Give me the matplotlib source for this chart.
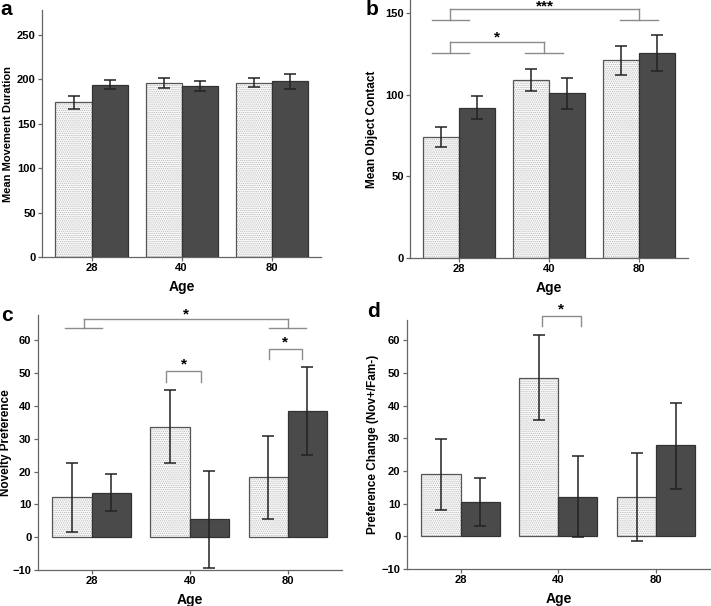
import numpy as np
import matplotlib
matplotlib.use("Agg")
import matplotlib.pyplot as plt

plt.rcParams['font.family'] = ['Liberation Sans', 'DejaVu Sans']
plt.rcParams['font.weight'] = 'bold'
plt.rcParams['hatch.linewidth'] = 0.5

# Donnees
ages = ['28', '40', '80']

duree_clair = [174, 196, 196]
duree_clair_bas = [167, 190, 191]
duree_clair_haut = [181, 202, 201]
duree_fonce = [194, 192, 198]
duree_fonce_bas = [189, 187, 189]
duree_fonce_haut = [199, 198, 206]

contact_clair = [74, 109, 121]
contact_clair_bas = [68, 102, 112]
contact_clair_haut = [80, 116, 130]
contact_fonce = [92, 101, 125.5]
contact_fonce_bas = [85, 91.5, 114.5]
contact_fonce_haut = [99.5, 110, 136.5]

nouveaute_clair = [12.2, 33.7, 18.2]
nouveaute_clair_bas = [1.5, 22.7, 5.6]
nouveaute_clair_haut = [22.6, 44.7, 30.7]
nouveaute_fonce = [13.5, 5.4, 38.5]
nouveaute_fonce_bas = [7.9, -9.5, 25.1]
nouveaute_fonce_haut = [19.2, 20.2, 52.0]

changement_clair = [19.0, 48.6, 11.9]
changement_clair_bas = [8.0, 35.6, -1.3]
changement_clair_haut = [29.9, 61.7, 25.4]
changement_fonce = [10.4, 12.0, 27.8]
changement_fonce_bas = [3.1, -0.2, 14.5]
changement_fonce_haut = [17.7, 24.6, 40.8]

W, H = 711, 606
fig = plt.figure(figsize=(W / 100, H / 100), dpi=100)


def creer_axe(gauche, droite, haut, bas):
    return fig.add_axes([gauche / W, 1 - bas / H, (droite - gauche) / W, (bas - haut) / H])


def tracer_barres(ax, clair, clair_bas, clair_haut, fonce, fonce_bas, fonce_haut):
    x = np.arange(len(ages))
    # barres claires pointillees
    ax.bar(x - 0.2, clair, 0.4, color='#f8f8f8', edgecolor='#b4b4b4', hatch='........', linewidth=0, zorder=2)
    ax.bar(x - 0.2, clair, 0.4, fill=False, edgecolor='#555555', linewidth=0.9, zorder=3)
    ax.bar(x + 0.2, fonce, 0.4, color='#4a4a4a', edgecolor='#333333', linewidth=0.9, zorder=3)
    c = np.array(clair)
    f = np.array(fonce)
    ax.errorbar(x - 0.2, c, yerr=[c - np.array(clair_bas), np.array(clair_haut) - c], fmt='none',
                ecolor='#222222', elinewidth=1.1, capsize=4, capthick=1.1, zorder=4)
    ax.errorbar(x + 0.2, f, yerr=[f - np.array(fonce_bas), np.array(fonce_haut) - f], fmt='none',
                ecolor='#222222', elinewidth=1.1, capsize=4, capthick=1.1, zorder=4)
    ax.set_xticks(x)
    ax.set_xticklabels(ages)
    ax.set_xlim(-0.55, 2.55)
    for s in ['top', 'right']:
        ax.spines[s].set_visible(False)
    for s in ['left', 'bottom']:
        ax.spines[s].set_color('#666666')
        ax.spines[s].set_linewidth(0.9)
    ax.tick_params(axis='both', direction='out', length=3, width=0.9, color='#666666',
                   labelsize=8, pad=1.5)
    ax.set_xlabel('Age', fontsize=10, fontweight='bold', labelpad=5)


def accolade_groupe(ax, x1, x2, y_court, y_long, demi=0.2, etoile='*', y_etoile=None):
    gris = '#8c8c8c'
    for xm in (x1, x2):
        ax.plot([xm - demi, xm + demi], [y_court, y_court], color=gris, lw=1, clip_on=False)
        ax.plot([xm, xm], [y_court, y_long], color=gris, lw=1, clip_on=False)
    ax.plot([x1, x2], [y_long, y_long], color=gris, lw=1, clip_on=False)
    ax.text((x1 + x2) / 2, y_etoile, etoile, ha='center', va='center', fontsize=11, fontweight='bold')


def accolade(ax, x1, x2, y_bas, y_haut, y_etoile):
    gris = '#8c8c8c'
    ax.plot([x1, x1, x2, x2], [y_bas, y_haut, y_haut, y_bas], color=gris, lw=1, clip_on=False)
    ax.text((x1 + x2) / 2, y_etoile, '*', ha='center', va='center', fontsize=11, fontweight='bold')


# a
ax_a = creer_axe(42, 321, 10, 257)
tracer_barres(ax_a, duree_clair, duree_clair_bas, duree_clair_haut,
              duree_fonce, duree_fonce_bas, duree_fonce_haut)
ax_a.set_ylim(0, 278)
ax_a.set_yticks([0, 50, 100, 150, 200, 250])
ax_a.set_ylabel('Mean Movement Duration', fontsize=8, fontweight='bold')
ax_a.yaxis.set_label_coords(-0.105, 0.5)

# b
ax_b = creer_axe(410, 688, 0, 258)
tracer_barres(ax_b, contact_clair, contact_clair_bas, contact_clair_haut,
              contact_fonce, contact_fonce_bas, contact_fonce_haut)
ax_b.set_ylim(0, 158)
ax_b.set_yticks([0, 50, 100, 150])
ax_b.set_ylabel('Mean Object Contact', fontsize=8.5, fontweight='bold')
ax_b.yaxis.set_label_coords(-0.115, 0.5)
accolade_groupe(ax_b, -0.1, 2.0, 145.5, 152.5, demi=0.21, etoile='***', y_etoile=154.3)
accolade_groupe(ax_b, -0.1, 0.945, 125.7, 132.5, demi=0.21, etoile='*', y_etoile=135.0)

# c
ax_c = creer_axe(37.7, 341.7, 315, 570)
tracer_barres(ax_c, nouveaute_clair, nouveaute_clair_bas, nouveaute_clair_haut,
              nouveaute_fonce, nouveaute_fonce_bas, nouveaute_fonce_haut)
ax_c.set_ylim(-10, 67.7)
ax_c.set_yticks([-10, 0, 10, 20, 30, 40, 50, 60])
ax_c.set_ylabel('Novelty Preference', fontsize=8.5, fontweight='bold')
ax_c.yaxis.set_label_coords(-0.085, 0.5)
accolade_groupe(ax_c, -0.08, 2.0, 63.6, 66.6, demi=0.19, etoile='*', y_etoile=68.0)
accolade(ax_c, 0.76, 1.115, 47.4, 50.5, 52.6)
accolade(ax_c, 1.806, 2.147, 54.4, 57.3, 59.3)

# d
ax_d = creer_axe(406.7, 710, 320, 569)
tracer_barres(ax_d, changement_clair, changement_clair_bas, changement_clair_haut,
              changement_fonce, changement_fonce_bas, changement_fonce_haut)
ax_d.set_ylim(-10, 66.2)
ax_d.set_yticks([-10, 0, 10, 20, 30, 40, 50, 60])
ax_d.set_ylabel('Preference Change (Nov+/Fam-)', fontsize=8.5, fontweight='bold')
ax_d.yaxis.set_label_coords(-0.091, 0.5)
accolade(ax_d, 0.83, 1.23, 64.5, 67.3, 69.3)

# lettres des panneaux
for lettre, px, py in [('a', 0, 0), ('b', 366, 0), ('c', 1, 306), ('d', 367, 302)]:
    fig.text(px / W, 1 - py / H, lettre, fontsize=15, fontweight='bold', ha='left', va='top')

fig.savefig('out.png', dpi=100)
